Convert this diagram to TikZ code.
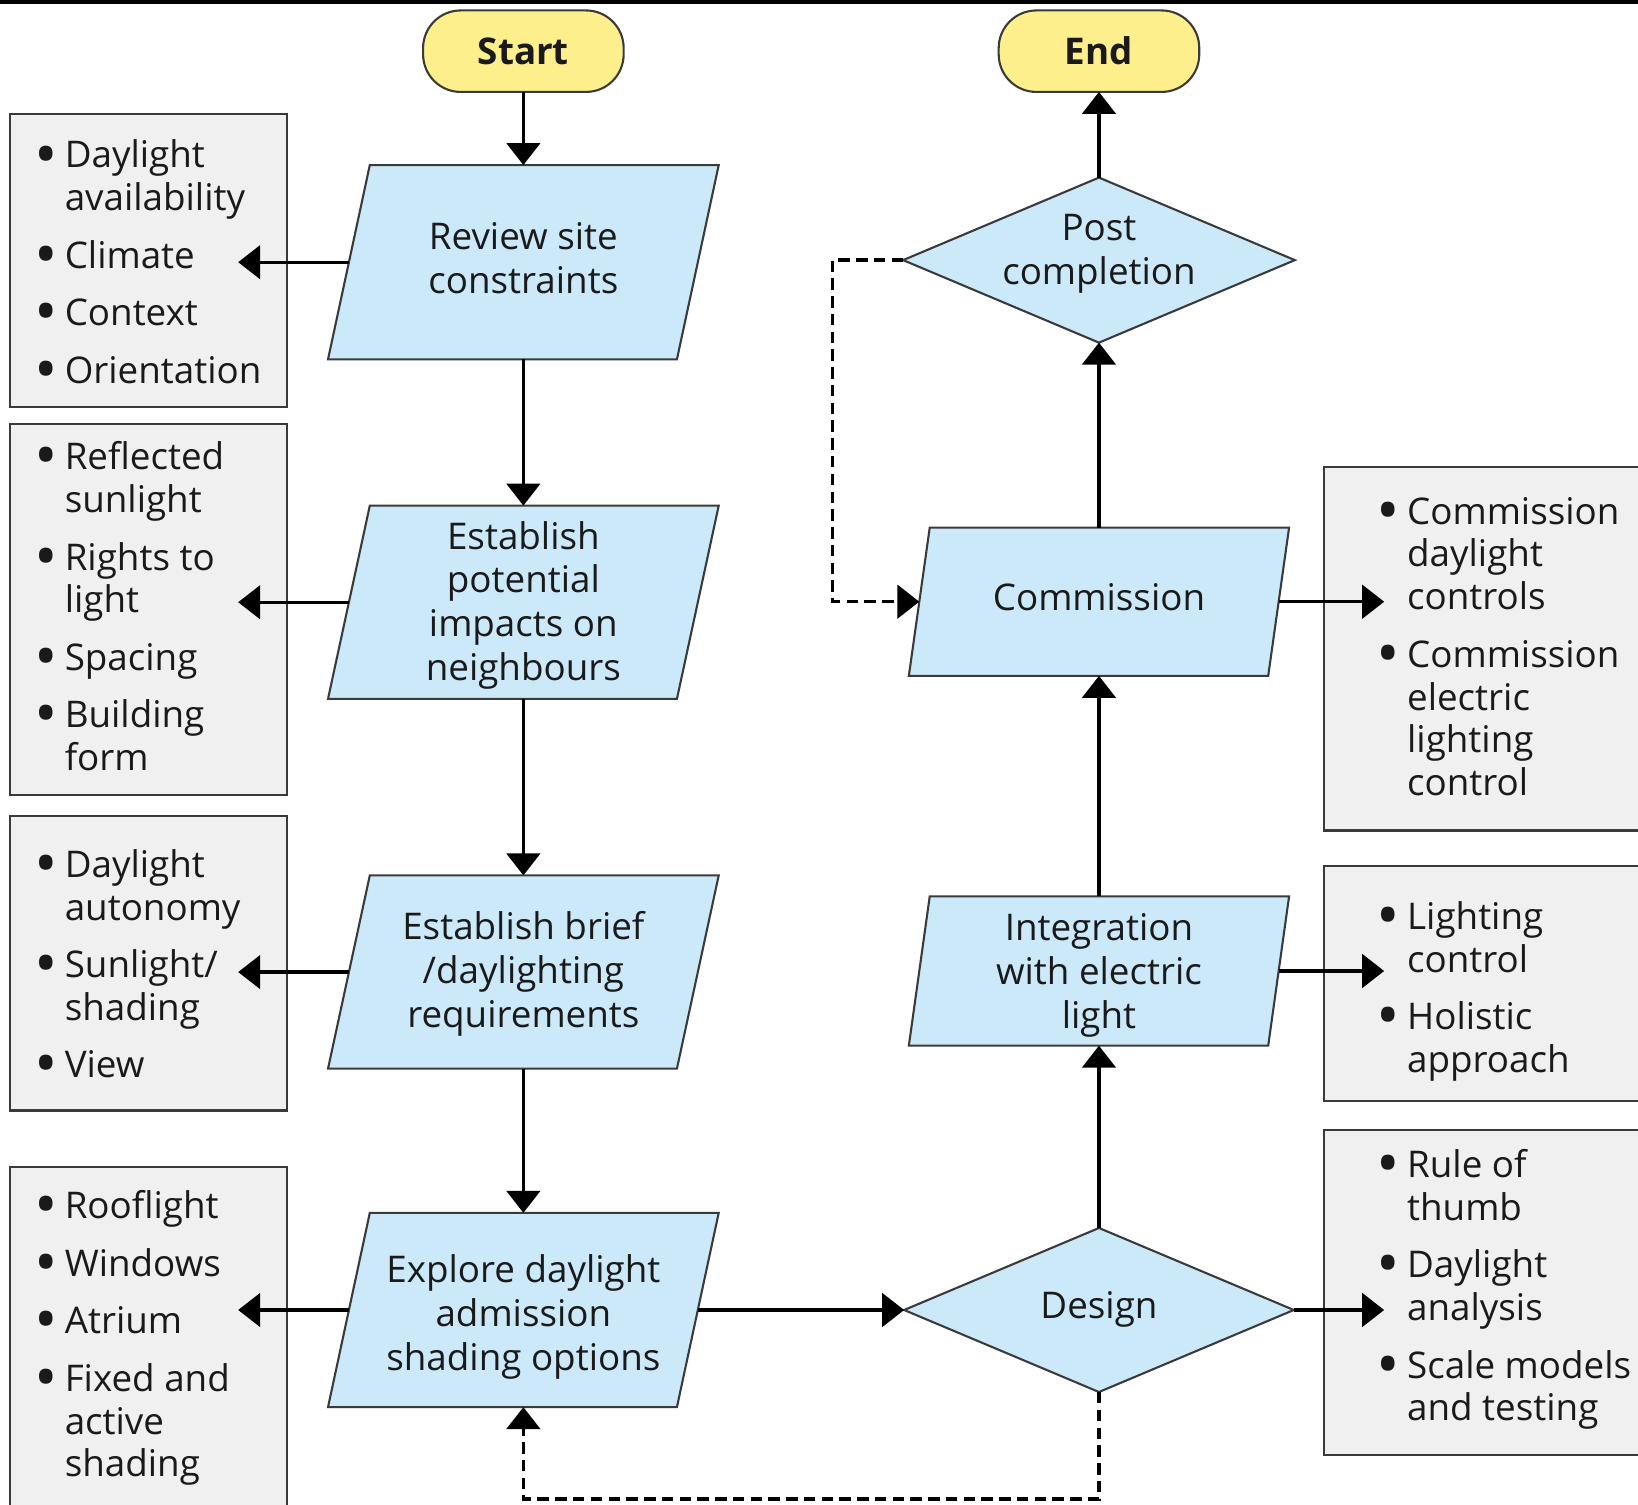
\documentclass[tikz,border=0pt]{standalone}
\usepackage{fontspec}
\setmainfont{Open Sans}
\usetikzlibrary{shapes.geometric,arrows.meta,fit,calc}

\definecolor{boxgray}{HTML}{F0F0F0}
\definecolor{boxline}{HTML}{3A3A3A}
\definecolor{parablue}{HTML}{CCE9FA}
\definecolor{termyellow}{HTML}{FCEF8C}
\definecolor{inkc}{HTML}{1A1A1A}

\newcommand{\mainfnt}{\fontsize{17.6}{21}\selectfont}
\newcommand{\listfnt}{\fontsize{17.6}{20.5}\selectfont}

\tikzset{
  base/.style={inner sep=0pt, outer sep=0pt, font=\mainfnt, text=inkc, align=center},
  listtxt/.style={inner sep=0pt, outer sep=0pt, font=\listfnt, text=inkc, anchor=west},
  gbox/.style={draw=boxline, fill=boxgray, line width=1pt, inner sep=0pt, outer sep=0pt},
  parashape/.style={draw=boxline, fill=parablue, line width=1pt},
  dia/.style={diamond, draw=boxline, fill=parablue, line width=1pt, inner sep=0pt, outer sep=0pt},
  term/.style={draw=boxline, fill=termyellow, line width=1pt, rounded corners=18pt,
    minimum width=96pt, minimum height=39pt, inner sep=0pt, outer sep=0pt,
    font=\fontsize{17.6}{21}\selectfont\bfseries, text=inkc},
  arr/.style={-{Triangle[width=16pt,length=10.5pt]}, line width=1.5pt, draw=black},
  darr/.style={-{Triangle[width=16pt,length=10.5pt]}, line width=1.7pt, draw=black, dash pattern=on 5.5pt off 3pt},
}

% name, x, y, half width, half height, half slant  (empty holder node + drawn outline)
\newcommand{\mkpara}[6]{%
  \filldraw[parashape] ({#2-#4+#6},{#3-#5}) -- ({#2+#4+#6},{#3-#5}) -- ({#2+#4-#6},{#3+#5}) -- ({#2-#4-#6},{#3+#5}) -- cycle;
  \node[base, minimum width=#4pt, minimum height=#5pt] (#1) at (#2,#3) {};%
}
\newcommand{\bitems}[1]{\begin{tabular}{@{}l@{\hspace{5pt}}l@{}}#1\end{tabular}}
\newcommand{\bu}{\makebox[8pt][c]{\smash{\raisebox{-3.9pt}{\scalebox{1.7}{\textbullet}}}}}

\begin{document}
\begin{tikzpicture}[x=0.5pt,y=-0.5pt]
\clip (0,0) rectangle (1568,1440);
\fill[black] (0,0) rectangle (1568,4);

% ---- grey side boxes
\node[gbox, fit={(10,109) (275,390)}] (b1) {};
\node[gbox, fit={(10,406) (275,761)}] (b2) {};
\node[gbox, fit={(10,781) (275,1063)}] (b3) {};
\node[gbox, fit={(10,1117) (275,1470)}] (b4) {};
\node[gbox, fit={(1267,447) (1600,795)}] (r1) {};
\node[gbox, fit={(1267,829) (1600,1054)}] (r2) {};
\node[gbox, fit={(1267,1082) (1600,1393)}] (r3) {};

\node[listtxt] (t1) at (36,255.5) {\bitems{\bu & Daylight\\ & availability\\[7pt] \bu & Climate\\[7pt] \bu & Context\\[7pt] \bu & Orientation}};
\node[listtxt] (t2) at (36,585.5) {\bitems{\bu & Reflected\\ & sunlight\\[7pt] \bu & Rights to\\ & light\\[7pt] \bu & Spacing\\[7pt] \bu & Building\\ & form}};
\node[listtxt] (t3) at (36,927.5) {\bitems{\bu & Daylight\\ & autonomy\\[7pt] \bu & Sunlight/\\ & shading\\[7pt] \bu & View}};
\node[listtxt] (t4) at (36,1282) {\bitems{\bu & Rooflight\\[7pt] \bu & Windows\\[7pt] \bu & Atrium\\[7pt] \bu & Fixed and\\ & active\\ & shading}};
\node[listtxt] (t5) at (1321,623.5) {\bitems{\bu & Commission\\ & daylight\\ & controls\\[7pt] \bu & Commission\\ & electric\\ & lighting\\ & control}};
\node[listtxt] (t6) at (1321,950) {\bitems{\bu & Lighting\\ & control\\[7pt] \bu & Holistic\\ & approach}};
\node[listtxt] (t7) at (1321,1235.5) {\bitems{\bu & Rule of\\ & thumb\\[7pt] \bu & Daylight\\ & analysis\\[7pt] \bu & Scale models\\ & and testing}};

% ---- terminals
\node[term] (start) at (501,49) {Start};
\node[term] (end) at (1052,49) {End};

% ---- process boxes
\mkpara{p1}{501}{251}{167}{93}{20}
\node[base] (p1t) at (501,247) {Review site\\constraints};
\mkpara{p2}{501}{576.5}{167}{92.5}{20}
\node[base] (p2t) at (501,579.5) {Establish\\potential\\impacts on\\neighbours};
\mkpara{p3}{501}{930.5}{167}{92.5}{20}
\node[base] (p3t) at (501,932.5) {Establish brief\\/daylighting\\requirements};
\mkpara{p4}{501}{1254}{167}{93}{20}
\node[base] (p4t) at (501,1261) {Explore daylight\\admission\\shading options};
\mkpara{comm}{1052}{576}{172}{71}{10}
\node[base] (commt) at (1052,572) {Commission};
\mkpara{integ}{1052}{929.5}{172}{71.5}{10}
\node[base] (integt) at (1052,933.5) {Integration\\with electric\\light};

% ---- decisions
\node[dia, minimum width=187.5pt, minimum height=79pt] (post) at (1052,249) {};
\node[base] (posttxt) at (1052,243) {Post\\completion};
\node[dia, minimum width=186.5pt, minimum height=78.5pt] (design) at (1052,1254) {};
\node[base] (designtxt) at (1052,1253) {Design};

% ---- arrow target points inside the grey boxes
\coordinate (b1in) at ([xshift=-23.5pt]b1.east);
\coordinate (b2in) at ([xshift=-23.5pt]b2.east);
\coordinate (b3in) at ([xshift=-23.5pt]b3.east);
\coordinate (b4in) at ([xshift=-23.5pt]b4.east);
\coordinate (r1in) at ([xshift=29pt]r1.west);
\coordinate (r2in) at ([xshift=29pt]r2.west);
\coordinate (r3in) at ([xshift=29pt]r3.west);
\coordinate (fbk1) at (797,576);
\coordinate (fbk2) at (501,1435);

% ---- main flow
\draw[arr] (start.south) -- (p1.north);
\draw[arr] (p1.south) -- (p2.north);
\draw[arr] (p2.south) -- (p3.north);
\draw[arr] (p3.south) -- (p4.north);
\draw[arr] (p1.west) -- (p1.west -| b1in);
\draw[arr] (p2.west) -- (p2.west -| b2in);
\draw[arr] (p3.west) -- (p3.west -| b3in);
\draw[arr] (p4.west) -- (p4.west -| b4in);
\draw[arr] (p4.east) -- (design.west);
\draw[arr] (design.east) -- (design.east -| r3in);
\draw[arr] (design.north) -- (integ.south);
\draw[arr] (integ.east) -- (integ.east -| r2in);
\draw[arr] (integ.north) -- (comm.south);
\draw[arr] (comm.east) -- (comm.east -| r1in);
\draw[arr] (comm.north) -- (post.south);
\draw[arr] (post.north) -- (end.south);

% ---- feedback loops
\draw[darr] (post.west) -| (fbk1) -- (comm.west);
\draw[darr] (design.south) |- (fbk2) -- (p4.south);
\end{tikzpicture}
\end{document}
